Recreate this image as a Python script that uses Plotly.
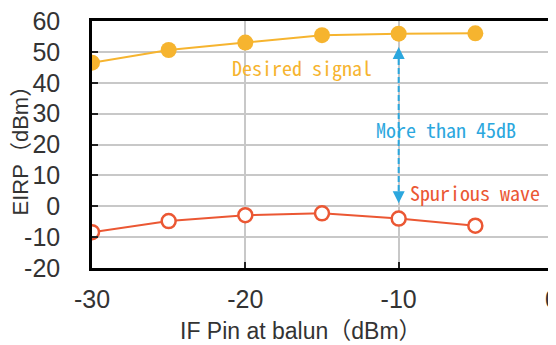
import plotly.graph_objects as go

pin = [-30, -25, -20, -15, -10, -5]
desired = [46.5, 50.6, 53.0, 55.4, 55.9, 56.0]
spurious = [-8.4, -4.8, -2.9, -2.3, -4.0, -6.3]
x_ticks = [-30, -20, -10, 0]
x_labels = ["-30", "-20", "-10", "0"]
y_ticks = [-20, -10, 0, 10, 20, 30, 40, 50, 60]
y_labels = ["-20", "-10", "0", "10", "20", "30", "40", "50", "60"]

ORANGE = "#F6B42F"
RED = "#EB5733"
BLUE = "#2BA7DE"
MONO = "Noto Sans Mono CJK JP, Liberation Mono, monospace"
SANS = "Liberation Sans, Arial, Noto Sans CJK JP"

fig = go.Figure()
fig.add_trace(go.Scatter(x=pin, y=desired, mode="lines+markers",
                         line=dict(color=ORANGE, width=2),
                         marker=dict(size=16, color=ORANGE), showlegend=False))
fig.add_trace(go.Scatter(x=pin, y=spurious, mode="lines+markers",
                         line=dict(color=RED, width=2),
                         marker=dict(size=14, color="white", symbol="circle",
                                     line=dict(color=RED, width=2.5)),
                         showlegend=False))

# dashed double arrow
fig.add_shape(type="line", x0=-10, x1=-10, y0=2.0, y1=50.6,
              line=dict(color=BLUE, width=2, dash="6px,3px"))
fig.add_annotation(x=-10, y=51.6, ax=0, ay=12, showarrow=True, arrowhead=2,
                   arrowsize=1.2, arrowwidth=2, arrowcolor=BLUE, text="")
fig.add_annotation(x=-10, y=1.0, ax=0, ay=-12, showarrow=True, arrowhead=2,
                   arrowsize=1.2, arrowwidth=2, arrowcolor=BLUE, text="")

fig.add_annotation(x=-16.3, y=44.9, text="Desired signal", showarrow=False,
                   font=dict(family=MONO, size=20, color=ORANGE))
fig.add_annotation(x=-6.9, y=24.7, text="More than 45dB", showarrow=False,
                   font=dict(family=MONO, size=20, color=BLUE))
fig.add_annotation(x=-5.0, y=4.3, text="Spurious wave", showarrow=False,
                   font=dict(family=MONO, size=20, color=RED))

fig.add_annotation(xref="paper", yref="paper", x=0.455, y=-0.255, yanchor="middle",
                   text="IF Pin at balun（dBm）", showarrow=False,
                   font=dict(family=SANS, size=23, color="#333"))
fig.add_annotation(xref="paper", yref="paper", x=-0.1545, y=0.5, xanchor="center",
                   yanchor="middle",
                   text="EIRP（dBm）", showarrow=False, textangle=-90,
                   font=dict(family=SANS, size=22, color="#333"))

fig.update_xaxes(range=[-30, 0], tickvals=x_ticks, ticktext=x_labels,
                 ticks="inside", ticklen=6, tickwidth=2, tickcolor="#222",
                 ticklabelstandoff=7, automargin=False, ticklabeloverflow="allow",
                 showgrid=True, gridcolor="#c8c8c8", gridwidth=1.5,
                 showline=True, linecolor="black", linewidth=2.5, mirror=True,
                 zeroline=False,
                 tickfont=dict(family=SANS, size=25, color="#333"))
fig.update_yaxes(range=[-20, 60], tickvals=y_ticks, ticktext=y_labels,
                 ticks="inside", ticklen=6, tickwidth=2, tickcolor="#222",
                 ticklabelstandoff=24, automargin=False, ticklabeloverflow="allow",
                 showgrid=True, gridcolor="#c8c8c8", gridwidth=1.5,
                 showline=True, linecolor="black", linewidth=2.5, mirror=True,
                 zeroline=False,
                 tickfont=dict(family=SANS, size=25, color="#333"))

# page body adds an 8px offset; compensate so the plot lands where the reference has it
fig.update_layout(width=548, height=337, margin=dict(l=84, r=4, t=13, b=77),
                  paper_bgcolor="white", plot_bgcolor="white")
fig.write_html("out.html")
